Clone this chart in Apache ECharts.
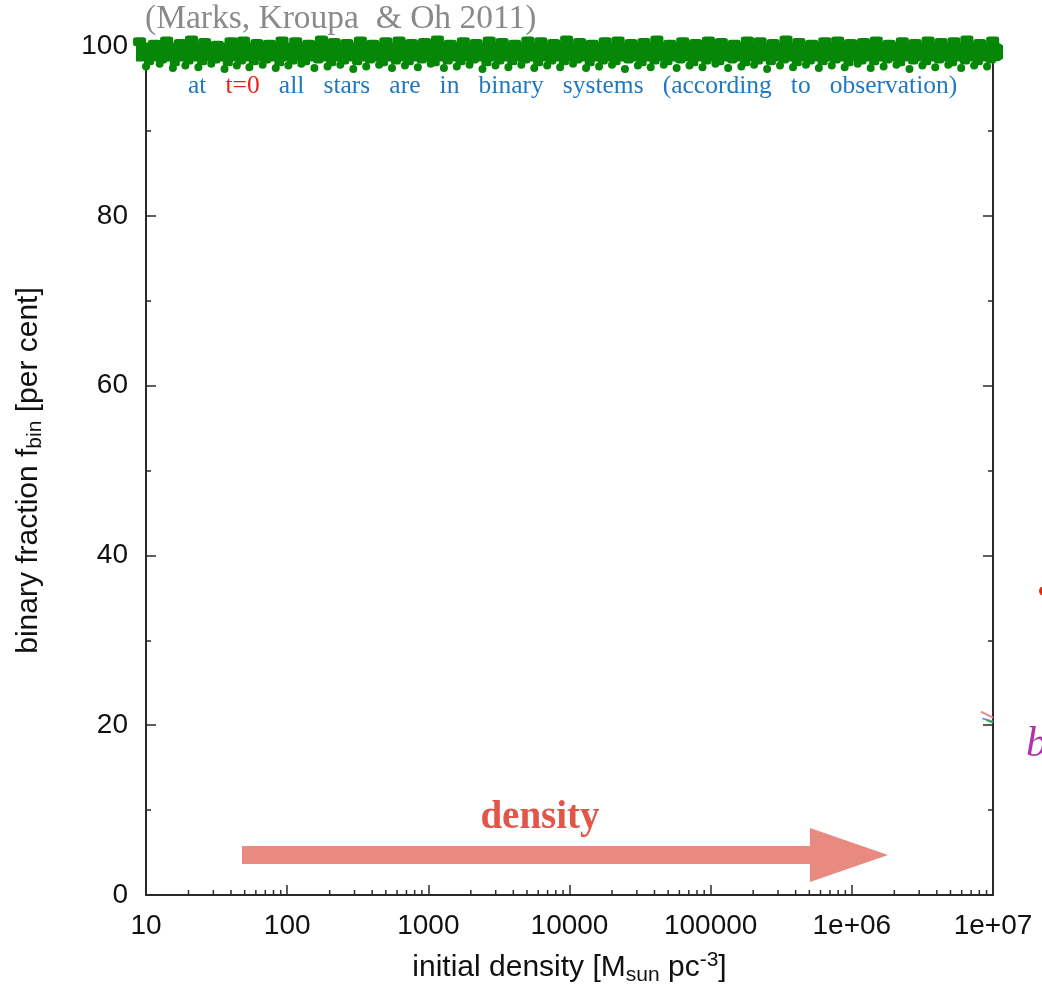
<!DOCTYPE html>
<html><head><meta charset="utf-8">
<script src="https://cdn.jsdelivr.net/npm/echarts@6/dist/echarts.min.js"></script>
<style>html,body{margin:0;padding:0;background:#fff}#c{width:1042px;height:989px}</style>
</head><body><div id="c"></div>
<script>
// ---- data ----
const xTickLabels = ['10','100','1000','10000','100000','1e+06','1e+07'];
const xDecades = [10,100,1000,10000,100000,1000000];
const xMinorMult = [2,3,4,5,6,7,8,9];
const yTickValues = [0,20,40,60,80,100];

// dense green band of points at ~100 per cent (t=0)
const bandCore = [[8.6,99.3],[1.05e7,99.3]];
const bandTop = [
 [9,100.5],[11.5,100.2],[14,100.6],[17.5,100.3],[21,100.7],[26,100.4],[32,100.1],[40,100.5],[49,100.6],[61,100.3],
 [75,100.2],[92,100.6],[115,100.5],[142,100.2],[175,100.7],[215,100.4],[265,100.3],[330,100.6],[405,100.2],[500,100.5],
 [620,100.6],[760,100.3],[940,100.4],[1160,100.7],[1430,100.2],[1770,100.5],[2180,100.3],[2700,100.6],[3330,100.4],[4100,100.2],
 [5070,100.6],[6260,100.5],[7730,100.3],[9540,100.7],[11800,100.4],[14500,100.2],[17900,100.5],[22100,100.6],[27300,100.3],[33700,100.4],
 [41600,100.7],[51300,100.2],[63400,100.5],[78200,100.3],[96500,100.6],[119000,100.4],[147000,100.2],[182000,100.6],[224000,100.5],[277000,100.3],
 [342000,100.7],[422000,100.4],[521000,100.2],[643000,100.5],[794000,100.6],[980000,100.3],[1210000,100.4],[1490000,100.6],[1840000,100.2],[2280000,100.5],
 [2810000,100.3],[3470000,100.6],[4280000,100.4],[5290000,100.5],[6530000,100.7],[8060000,100.3],[9950000,100.6]
];
const bandMid = [
 [10.5,98.2],[13,98.4],[16,98.1],[20,98.3],[25,98.2],[31,98.4],[38,98.1],[47,98.3],[58,98.2],[71,98.4],
 [88,98.1],[109,98.3],[134,98.2],[166,98.4],[205,98.1],[253,98.3],[313,98.2],[386,98.4],[477,98.1],[589,98.3],
 [727,98.2],[898,98.4],[1110,98.1],[1370,98.3],[1690,98.2],[2090,98.4],[2580,98.1],[3180,98.3],[3930,98.2],[4850,98.4],
 [5990,98.1],[7400,98.3],[9130,98.2],[11300,98.4],[13900,98.1],[17200,98.3],[21200,98.2],[26200,98.4],[32400,98.1],[40000,98.3],
 [49400,98.2],[61000,98.4],[75300,98.1],[93000,98.3],[115000,98.2],[142000,98.4],[175000,98.1],[216000,98.3],[267000,98.2],[330000,98.4],
 [407000,98.1],[503000,98.3],[621000,98.2],[767000,98.4],[947000,98.1],[1170000,98.3],[1440000,98.2],[1780000,98.4],[2200000,98.1],[2720000,98.3],
 [3360000,98.2],[4150000,98.4],[5120000,98.1],[6330000,98.3],[7810000,98.2],[9650000,98.4]
];
const bandLow = [
 [10,97.6],[12.5,97.9],[15.5,97.4],[19,97.7],[23.5,97.5],[29,97.9],[36,97.3],[44,97.7],[54,97.5],[67,97.8],
 [83,97.4],[102,97.7],[126,97.9],[156,97.4],[193,97.6],[238,97.8],[294,97.3],[363,97.6],[448,97.8],[553,97.4],
 [683,97.7],[843,97.5],[1040,97.9],[1290,97.4],[1590,97.6],[1960,97.8],[2420,97.3],[2990,97.7],[3690,97.5],[4560,97.8],
 [5630,97.4],[6950,97.7],[8580,97.5],[10600,97.9],[13100,97.4],[16200,97.6],[20000,97.8],[24700,97.3],[30500,97.7],[37600,97.5],
 [46500,97.8],[57400,97.4],[70800,97.7],[87500,97.5],[108000,97.9],[133000,97.4],[165000,97.6],[203000,97.8],[251000,97.3],[310000,97.7],
 [383000,97.5],[473000,97.8],[584000,97.4],[721000,97.7],[890000,97.5],[1100000,97.9],[1360000,97.4],[1680000,97.6],[2070000,97.8],[2560000,97.3],
 [3160000,97.7],[3900000,97.5],[4820000,97.8],[5950000,97.4],[7350000,97.7],[9080000,97.6]
];
// curve ends visible at the right edge near 20 per cent
const edgeRed = [[8.2e6,21.6],[1e7,20.9]];
const edgeBlue = [[8.4e6,20.8],[1e7,20.4]];
const edgeGreen = [[9.0e6,20.6],[1e7,20.3]];

// ---- chart ----
const minorVals = [];
xDecades.forEach(d => xMinorMult.forEach(m => minorVals.push([d*m, 0])));

const AX = '#2a2a2a';
const SANS = '"Liberation Sans", Arial, sans-serif';
const SERIF = '"Liberation Serif", "Times New Roman", serif';
const GREEN = '#078707';
const chart = echarts.init(document.getElementById('c'), null, {renderer:'canvas'});

const xCommon = {
  type:'log', logBase:10, min:10, max:1e7,
  axisLine:{show:true, onZero:false, lineStyle:{color:AX, width:2}},
  axisTick:{show:true, inside:true, length:10, lineStyle:{color:AX, width:1.5}},
  splitLine:{show:false}, minorTick:{show:false}
};
const yCommon = {
  type:'value', min:0, max:100, interval:20,
  axisLine:{show:true, lineStyle:{color:AX, width:2}},
  axisTick:{show:true, inside:true, length:10, lineStyle:{color:AX, width:1.5}},
  minorTick:{show:true, splitNumber:2, length:5, lineStyle:{color:AX, width:1.5}},
  splitLine:{show:false}
};

chart.setOption({
  animation:false,
  backgroundColor:'#fff',
  grid:{left:146, right:49, top:46, bottom:94, containLabel:false, outerBoundsMode:'none'},
  xAxis:[
    Object.assign({}, xCommon, {
      position:'bottom',
      axisLabel:{fontSize:28, color:'#111', fontFamily:SANS, margin:17,
        formatter: v => xTickLabels[Math.round(Math.log10(v)) - 1]},
      name:'initial density [M{sub|sun} pc{sup|-3}]',
      nameLocation:'middle', nameGap:55,
      nameTextStyle:{fontSize:30, color:'#111', fontFamily:SANS,
        rich:{sub:{fontSize:21, fontFamily:SANS, color:'#111', verticalAlign:'bottom', padding:[13,0,0,0]},
              sup:{fontSize:21, fontFamily:SANS, color:'#111', verticalAlign:'top', padding:[0,0,15,0]}}}
    }),
    Object.assign({}, xCommon, {position:'top', axisLabel:{show:false}})
  ],
  yAxis:[
    Object.assign({}, yCommon, {
      position:'left',
      axisLabel:{fontSize:28, color:'#111', fontFamily:SANS, margin:18},
      name:'binary fraction f{sub|bin} [per cent]',
      nameLocation:'middle', nameRotate:90, nameGap:100,
      nameTextStyle:{fontSize:30, color:'#111', fontFamily:SANS,
        rich:{sub:{fontSize:21, fontFamily:SANS, color:'#111', verticalAlign:'bottom', padding:[13,0,0,0]}}}
    }),
    Object.assign({}, yCommon, {position:'right', axisLabel:{show:false}})
  ],
  series:[
    {type:'custom', xAxisIndex:0, yAxisIndex:0, silent:true, clip:false, z:1,
      data: minorVals,
      renderItem:(params, api) => {
        const v = api.value(0);
        const b = api.coord([v, 0]);
        const t = api.coord([v, 100]);
        return {type:'group', children:[
          {type:'line', shape:{x1:b[0], y1:b[1], x2:b[0], y2:b[1]-5}, style:{stroke:AX, lineWidth:1.5}},
          {type:'line', shape:{x1:t[0], y1:t[1], x2:t[0], y2:t[1]+5}, style:{stroke:AX, lineWidth:1.5}}
        ]};
      }},
    {type:'line', data:edgeRed, symbol:'none', clip:true, lineStyle:{color:'#f08a8a', width:2}, z:2},
    {type:'line', data:edgeBlue, symbol:'none', clip:true, lineStyle:{color:'#6a8ff0', width:2}, z:2},
    {type:'line', data:edgeGreen, symbol:'none', clip:true, lineStyle:{color:'#3aa84a', width:2}, z:2},
    {type:'line', data:bandCore, symbol:'none', clip:false, lineStyle:{color:GREEN, width:19, cap:'round'}, z:5},
    {type:'scatter', data:bandTop, clip:false, symbol:'roundRect', symbolSize:[13,9], itemStyle:{color:GREEN, opacity:1}, z:5},
    {type:'scatter', data:bandMid, clip:false, symbol:'roundRect', symbolSize:[10,8], itemStyle:{color:GREEN, opacity:1}, z:5},
    {type:'scatter', data:bandLow, clip:false, symbolSize:8, itemStyle:{color:GREEN, opacity:1}, z:5}
  ],
  graphic:[
    {type:'text', z:10, style:{x:145, y:19, text:'(Marks, Kroupa  & Oh 2011)', fontSize:33.5, fontFamily:SERIF, fill:'#8a8a8a', align:'left', verticalAlign:'middle'}},
    {type:'text', z:10, style:{x:188, y:86, text:'at   {r|t=0}   all   stars   are   in   binary   systems   (according   to   observation)',
      fontSize:25.5, fontFamily:SERIF, fill:'#1f78c0', align:'left', verticalAlign:'middle',
      rich:{r:{fontSize:25.5, fontFamily:SERIF, fill:'#e8231b'}}}},
    {type:'polygon', z:10, shape:{points:[[242,846],[810,846],[810,828],[888,855],[810,882],[810,864],[242,864]]}, style:{fill:'#e88a7f'}},
    {type:'text', z:10, style:{x:540, y:818, text:'density', fontSize:39, fontWeight:'bold', fontFamily:SERIF, fill:'#e0574a', align:'center', verticalAlign:'middle'}},
    {type:'text', z:10, style:{x:1026, y:745, text:'b', fontSize:42, fontStyle:'italic', fontFamily:SERIF, fill:'#b233a8', align:'left', verticalAlign:'middle'}},
    {type:'circle', z:10, shape:{cx:1044, cy:591, r:5}, style:{fill:'#e02a1a'}}
  ]
});
</script>
</body></html>
